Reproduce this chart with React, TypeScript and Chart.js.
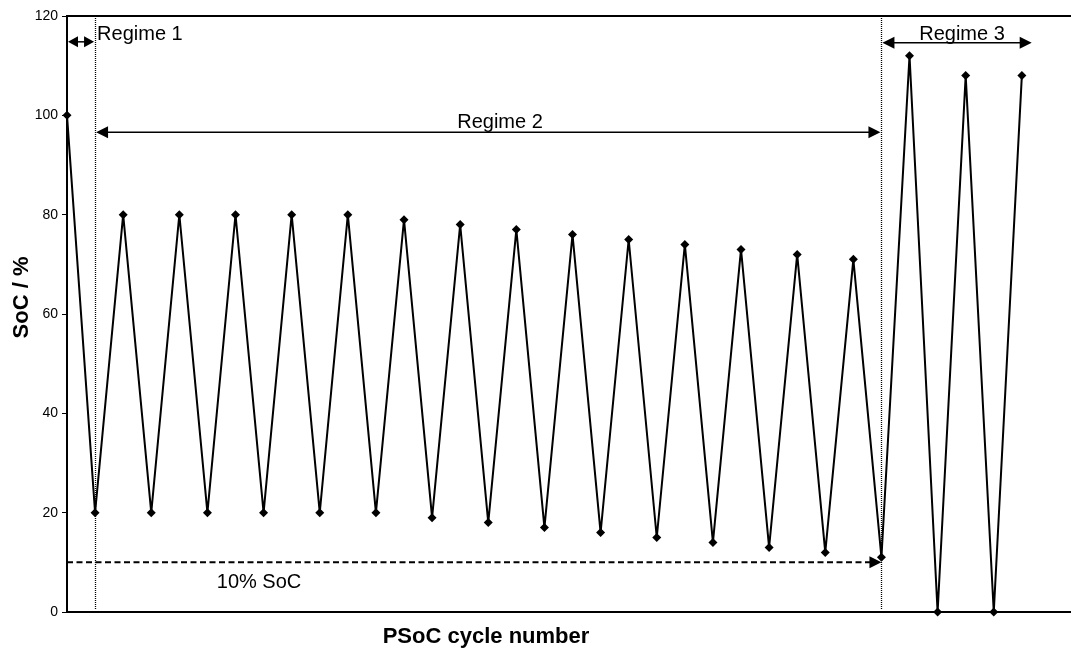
import React, { useEffect, useRef } from "react";
import { Chart, registerables } from "chart.js";

Chart.register(...registerables);

const cycles = [0, 1, 2, 3, 4, 5, 6, 7, 8, 9, 10, 11, 12, 13, 14, 15, 16, 17, 18, 19, 20, 21, 22, 23, 24, 25, 26, 27, 28, 29, 30, 31, 32, 33, 34];
const soc = [100, 20, 80, 20, 80, 20, 80, 20, 80, 20, 80, 20, 79, 19, 78, 18, 77, 17, 76, 16, 75, 15, 74, 14, 73, 13, 72, 12, 71, 11, 112, 0, 108, 0, 108];
const yTicks = [0, 20, 40, 60, 80, 100, 120];

// regime boundaries (cycle index) and annotation levels (SoC %)
const regimeBounds = [1, 29];
const regime3End = 34.35;
const regimeLabels = ["Regime 1", "Regime 2", "Regime 3"];
const limitLevel = 10;
const limitLabel = "10% SoC";

const FONT = "'Liberation Sans', Arial, Helvetica, sans-serif";

function arrowHead(ctx: CanvasRenderingContext2D, x: number, y: number, dir: number, len = 12, half = 6) {
  ctx.beginPath();
  ctx.moveTo(x, y);
  ctx.lineTo(x - dir * len, y - half);
  ctx.lineTo(x - dir * len, y + half);
  ctx.closePath();
  ctx.fill();
}

const annotations = {
  id: "annotations",
  afterDraw(chart: any) {
    const ctx = chart.ctx as CanvasRenderingContext2D;
    const xs = chart.scales.x;
    const ys = chart.scales.y;
    const area = chart.chartArea;
    ctx.save();
    ctx.fillStyle = "#000";
    ctx.strokeStyle = "#000";

    // top frame line
    ctx.lineWidth = 2;
    ctx.beginPath();
    ctx.moveTo(area.left, area.top);
    ctx.lineTo(area.right, area.top);
    ctx.stroke();

    // dotted regime boundaries
    ctx.lineWidth = 1.3;
    ctx.setLineDash([1, 1]);
    for (const b of regimeBounds) {
      const x = Math.round(xs.getPixelForValue(b)) + 0.5;
      ctx.beginPath();
      ctx.moveTo(x, area.top);
      ctx.lineTo(x, area.bottom - 3);
      ctx.stroke();
    }
    ctx.setLineDash([]);

    const x0 = xs.getPixelForValue(0);
    const x1 = xs.getPixelForValue(regimeBounds[0]);
    const x2 = xs.getPixelForValue(regimeBounds[1]);
    const x3 = xs.getPixelForValue(regime3End);

    // 10% dashed arrow
    const yl = ys.getPixelForValue(limitLevel);
    ctx.lineWidth = 2;
    ctx.setLineDash([6, 3.5]);
    ctx.beginPath();
    ctx.moveTo(x0, yl);
    ctx.lineTo(x2 - 10, yl);
    ctx.stroke();
    ctx.setLineDash([]);
    arrowHead(ctx, x2, yl, 1, 12, 6);

    // regime arrows
    ctx.lineWidth = 1.5;
    const yr1 = ys.getPixelForValue(114.8);
    ctx.beginPath();
    ctx.moveTo(x0 + 8, yr1);
    ctx.lineTo(x1 - 8, yr1);
    ctx.stroke();
    arrowHead(ctx, x0 + 1, yr1, -1, 10, 5.5);
    arrowHead(ctx, x1 - 1, yr1, 1, 10, 5.5);

    const yr2 = ys.getPixelForValue(96.6);
    ctx.beginPath();
    ctx.moveTo(x1 + 8, yr2);
    ctx.lineTo(x2 - 8, yr2);
    ctx.stroke();
    arrowHead(ctx, x1 + 1, yr2, -1, 12, 6);
    arrowHead(ctx, x2 - 1, yr2, 1, 12, 6);

    const yr3 = ys.getPixelForValue(114.6);
    ctx.beginPath();
    ctx.moveTo(x2 + 8, yr3);
    ctx.lineTo(x3 - 8, yr3);
    ctx.stroke();
    arrowHead(ctx, x2 + 1, yr3, -1, 12, 6);
    arrowHead(ctx, x3, yr3, 1, 12, 6);

    // texts
    ctx.font = `20px ${FONT}`;
    ctx.textBaseline = "alphabetic";
    ctx.textAlign = "left";
    ctx.fillText(regimeLabels[0], x1 + 2, 40);
    ctx.textAlign = "center";
    ctx.fillText(regimeLabels[1], 500, 128);
    ctx.fillText(regimeLabels[2], 962, 40);
    ctx.fillText(limitLabel, 259, 588);

    // axis titles
    ctx.font = `bold 22px ${FONT}`;
    ctx.fillText("PSoC cycle number", 486, 643);
    ctx.save();
    ctx.translate(28, 297.5);
    ctx.rotate(-Math.PI / 2);
    ctx.fillText("SoC / %", 0, 0);
    ctx.restore();

    ctx.restore();
  },
};

export default function App() {
  const ref = useRef<HTMLCanvasElement>(null);
  useEffect(() => {
    if (!ref.current) return;
    const chart = new Chart(ref.current, {
      type: "line",
      data: {
        datasets: [
          {
            data: cycles.map((c, i) => ({ x: c, y: soc[i] })),
            borderColor: "#000",
            borderWidth: 2,
            backgroundColor: "#000",
            pointStyle: "rectRot",
            pointRadius: 4.5,
            pointBackgroundColor: "#000",
            pointBorderColor: "#000",
            pointBorderWidth: 0,
            tension: 0,
            clip: false as any,
          },
        ],
      },
      options: {
        animation: false,
        responsive: true,
        maintainAspectRatio: false,
        layout: { autoPadding: false, padding: { top: 16, right: 0, left: 0, bottom: 0 } },
        plugins: { legend: { display: false }, tooltip: { enabled: false } },
        scales: {
          x: {
            type: "linear",
            min: 0,
            max: 35.75,
            ticks: { display: false },
            grid: { display: false },
            border: { display: true, color: "#000", width: 2 },
            afterFit: (s: any) => {
              s.height = 42;
            },
          },
          y: {
            min: 0,
            max: 120,
            afterBuildTicks: (s: any) => {
              s.ticks = yTicks.map((v) => ({ value: v }));
            },
            ticks: { color: "#000", font: { family: FONT, size: 14 }, padding: 4 },
            grid: { drawOnChartArea: false, drawTicks: true, tickLength: 5, color: "#000", lineWidth: 1 },
            border: { display: true, color: "#000", width: 2 },
            afterFit: (s: any) => {
              s.width = 67;
            },
          },
        },
      },
      plugins: [annotations],
    });
    return () => chart.destroy();
  }, []);
  return (
    <div style={{ position: "absolute", left: 0, top: 0, width: 1071, height: 654, background: "#fff" }}>
      <canvas ref={ref} />
    </div>
  );
}
